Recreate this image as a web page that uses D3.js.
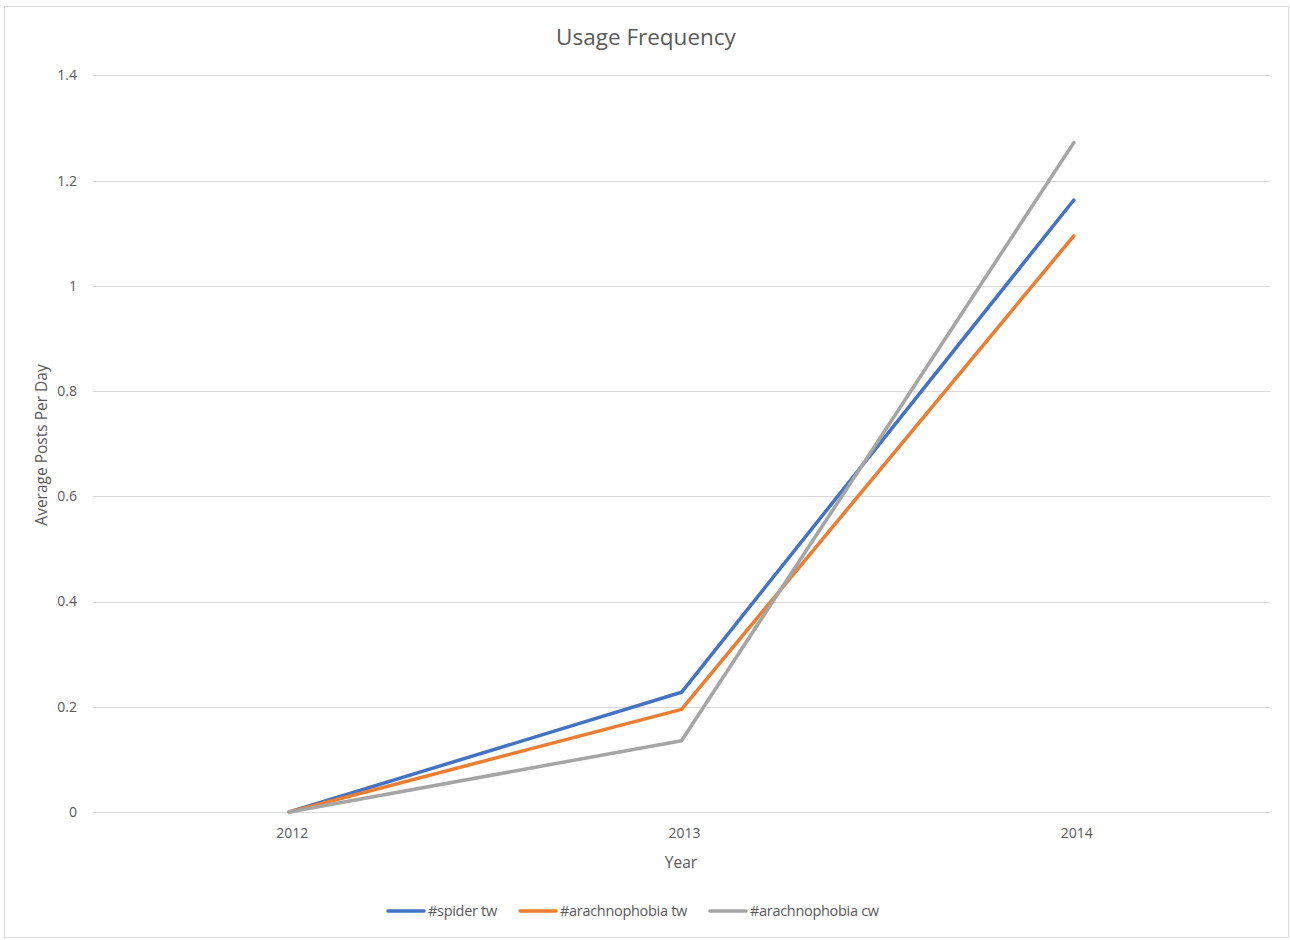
<!DOCTYPE html>
<html>
<head>
<meta charset="utf-8">
<script src="https://cdn.jsdelivr.net/npm/d3@7"></script>
<style>
  html, body { margin: 0; padding: 0; background: #fff; }
  svg { display: block; }
  text { font-family: "Open Sans", "Noto Sans", sans-serif; fill: #595959; }
</style>
</head>
<body>
<svg id="chart" width="1290" height="940"></svg>
<script>
// Usage data: average posts per day by year
const years = ["2012", "2013", "2014"];
const seriesNames = ["#spider tw", "#arachnophobia tw", "#arachnophobia cw"];
const spiderTw = [0, 0.2275, 1.163];
const arachnophobiaTw = [0, 0.195, 1.095];
const arachnophobiaCw = [0, 0.1355, 1.272];
const yTicks = [0, 0.2, 0.4, 0.6, 0.8, 1, 1.2, 1.4];
const seriesColors = ["#4472C4", "#ED7D31", "#A5A5A5"];

const series = [spiderTw, arachnophobiaTw, arachnophobiaCw].map((values, i) => ({
  name: seriesNames[i],
  color: seriesColors[i],
  points: years.map((y, j) => ({ year: y, value: values[j] }))
}));

const svg = d3.select("#chart");

// outer frame
svg.append("rect")
  .attr("x", 4.5).attr("y", 6.5)
  .attr("width", 1284).attr("height", 931)
  .attr("fill", "#fff")
  .attr("stroke", "#d9d9d9")
  .attr("stroke-width", 1);

const plot = { left: 93, right: 1270, top: 75.3, bottom: 812 };

const x = d3.scaleBand().domain(years).range([plot.left, plot.right]);
const y = d3.scaleLinear().domain([0, 1.4]).range([plot.bottom, plot.top]);

// gridlines
svg.append("g")
  .selectAll("line")
  .data(yTicks)
  .join("line")
  .attr("x1", plot.left).attr("x2", plot.right)
  .attr("y1", d => Math.round(y(d)) + 0.5)
  .attr("y2", d => Math.round(y(d)) + 0.5)
  .attr("stroke", "#d9d9d9")
  .attr("stroke-width", 1);

// y axis labels
const yAxis = d3.axisLeft(y).tickValues(yTicks).tickSize(0).tickPadding(0)
  .tickFormat(d => d3.format("~g")(d));
const gy = svg.append("g")
  .attr("transform", `translate(${plot.left - 16},0)`)
  .call(yAxis);
gy.select(".domain").remove();
gy.selectAll("text")
  .attr("font-size", 14)
  .attr("fill", "#595959")
  .style("font-family", '"Open Sans", "Noto Sans", sans-serif');

// x axis labels
const xAxis = d3.axisBottom(x).tickSize(0).tickPadding(0);
const gx = svg.append("g")
  .attr("transform", `translate(3,${plot.bottom + 16})`)
  .call(xAxis);
gx.select(".domain").remove();
gx.selectAll("text")
  .attr("font-size", 14)
  .attr("fill", "#595959")
  .style("font-family", '"Open Sans", "Noto Sans", sans-serif');

// lines
const line = d3.line()
  .x(d => x(d.year) + x.bandwidth() / 2)
  .y(d => y(d.value));

svg.append("g")
  .selectAll("path")
  .data(series)
  .join("path")
  .attr("d", d => line(d.points))
  .attr("fill", "none")
  .attr("stroke", d => d.color)
  .attr("stroke-width", 3.5)
  .attr("stroke-linecap", "round")
  .attr("stroke-linejoin", "round");

// title
svg.append("text")
  .attr("x", 646).attr("y", 45)
  .attr("text-anchor", "middle")
  .attr("font-size", 22.5)
  .text("Usage Frequency");

// axis titles
svg.append("text")
  .attr("x", 681).attr("y", 868)
  .attr("text-anchor", "middle")
  .attr("font-size", 15.5)
  .text("Year");

svg.append("text")
  .attr("transform", "translate(47,445) rotate(-90)")
  .attr("text-anchor", "middle")
  .attr("font-size", 15.5)
  .text("Average Posts Per Day");

// legend
const legendX = [388, 520, 710];
const legend = svg.append("g")
  .selectAll("g")
  .data(series)
  .join("g")
  .attr("transform", (d, i) => `translate(${legendX[i]},911)`);
legend.append("line")
  .attr("x1", 0).attr("x2", 36)
  .attr("y1", 0).attr("y2", 0)
  .attr("stroke", d => d.color)
  .attr("stroke-width", 3.5)
  .attr("stroke-linecap", "round");
legend.append("text")
  .attr("x", 40).attr("y", 5)
  .attr("font-size", 14.5)
  .attr("letter-spacing", -0.3)
  .text(d => d.name);
</script>
</body>
</html>
